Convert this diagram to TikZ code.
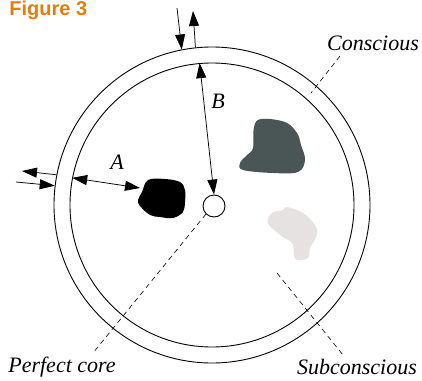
\documentclass[tikz,border=0pt]{standalone}
\usepackage{fontspec}
\newfontfamily\figfont{Liberation Sans}
\newfontfamily\tagfont{Liberation Serif}
\usetikzlibrary{arrows.meta}
\definecolor{figorange}{RGB}{228,124,16}
\definecolor{darkblob}{RGB}{74,85,86}
\definecolor{lightblob}{RGB}{231,226,226}

\begin{document}
\begin{tikzpicture}[x=1pt,y=-1pt,>={Triangle[length=15pt,width=10pt]},
                    line width=0.75pt]
  \tikzstyle{ring}=[circle,draw,inner sep=0pt,line width=0.9pt]
  \tikzstyle{tag}=[font=\tagfont\itshape\fontsize{22}{25}\selectfont,inner sep=0pt]
  \tikzstyle{guide}=[dash pattern=on 5pt off 4pt,line width=0.6pt]
  \useasboundingbox (0,0) rectangle (422,380);

  \node[anchor=base west,inner sep=0pt,text=figorange,
        font=\figfont\bfseries\fontsize{20}{24}\selectfont] (title) at (9,15) {Figure 3};

  % rings and core
  \node[ring,minimum size=316pt] (outer) at (212,205) {};
  \node[ring,minimum size=284pt] (inner) at (212,205) {};
  \node[ring,minimum size=22pt]  (core)  at (214,206) {};

  % blobs
  \fill[black] plot[smooth cycle,tension=0.6] coordinates {(148,180) (165,179) (180,182)
    (185,190) (185,202) (183,212) (173,218) (160,217) (150,215) (140,206) (138,200) (142,192)};
  \fill[darkblob] plot[smooth cycle,tension=0.6] coordinates {(261,119) (285,122) (297,133)
    (301,145) (305,160) (298,172) (273,173) (243,170) (240,163) (247,155) (253,148) (254,127)};
  \fill[lightblob] plot[smooth cycle,tension=0.6] coordinates {(287,207) (283,210) (272,213)
    (268,223) (280,235) (292,243) (294,255) (297,260) (308,258) (310,248) (317,235)
    (315,225) (303,213)};
  \coordinate (blob) at (140,188);

  % free ends
  \coordinate (outL) at (22,171);
  \coordinate (inL)  at (16,182);
  \coordinate (inT)  at (177,8);
  \coordinate (outT) at (193,11);
  \coordinate (conA) at (340,56);
  \coordinate (conB) at (311,93);
  \coordinate (perB) at (93,353);
  \coordinate (subA) at (277,273);
  \coordinate (subB) at (343,355);

  % arrows
  \draw[<->] (inner.169) -- (blob);
  \draw[<->] (inner.95) -- (core.north);
  \draw[->] (outer.169) -- (outL);
  \draw[->] (inL) -- (outer.173);
  \draw[->] (inT) -- (outer.101);
  \draw[->] (outer.96) -- (outT);

  % guides
  \draw[guide] (conA) -- (conB);
  \draw[guide] (core.225) -- (perB);
  \draw[guide] (subA) -- (subB);

  % labels
  \node[tag] (A)  at (117,162) {A};
  \node[tag] (B)  at (218,101) {B};
  \node[tag] (con) at (373,43)  {Conscious};
  \node[tag] (per) at (62,367)  {Perfect core};
  \node[tag] (sub) at (357,367) {Subconscious};
\end{tikzpicture}
\end{document}
